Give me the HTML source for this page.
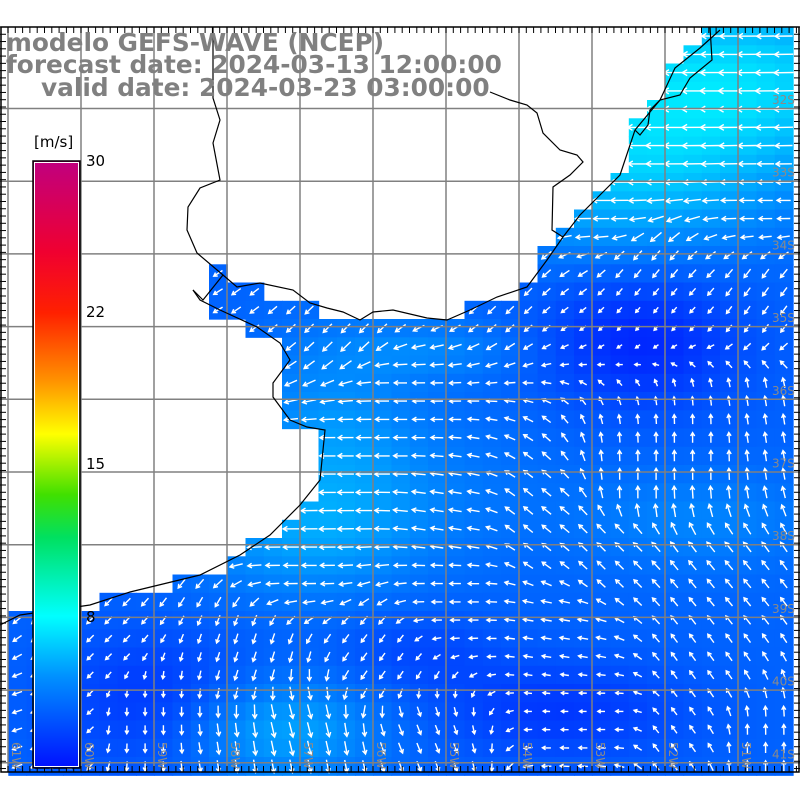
<!DOCTYPE html>
<html><head><meta charset="utf-8"><style>
html,body{margin:0;padding:0;background:#fff;width:800px;height:800px;overflow:hidden}
svg{display:block}
.t{font-family:"DejaVu Sans","Liberation Sans",sans-serif;font-weight:bold;font-size:24.8px;fill:#808080}
.l{font-family:"DejaVu Sans","Liberation Sans",sans-serif;font-size:15px;fill:#000}
.g{font-family:"DejaVu Sans",sans-serif;font-size:12px;fill:#8a8a8a}
</style></head><body>
<svg id="s" width="800" height="800" xmlns="http://www.w3.org/2000/svg">
<defs>
<linearGradient id="cb" x1="0" y1="0" x2="0" y2="1">
<stop offset="0" stop-color="#c0007f"/>
<stop offset="0.15" stop-color="#f00030"/>
<stop offset="0.25" stop-color="#ff2000"/>
<stop offset="0.36" stop-color="#ff9000"/>
<stop offset="0.45" stop-color="#ffff00"/>
<stop offset="0.55" stop-color="#40e000"/>
<stop offset="0.62" stop-color="#00e060"/>
<stop offset="0.75" stop-color="#00ffff"/>
<stop offset="0.85" stop-color="#0090ff"/>
<stop offset="1" stop-color="#0010ff"/>
</linearGradient>
</defs>
<g id="cells"></g>
<g id="arr" stroke="#fff" stroke-width="1.4" fill="none"></g>
<g id="grid" stroke="#808080" stroke-width="1.5"></g>
<polyline fill="none" stroke="#000" stroke-width="1.2" points="0,625 20,615 90,605 130,592 200,575 240,555 270,535 300,505 320,480 325,430 307,427 290,420 273,397 273,383 290,360 280,343 257,327 220,310 200,300 193,290"/>
<polyline fill="none" stroke="#000" stroke-width="1.2" points="193,290 203,300 223,275 237,287 260,283 293,290 310,303 327,308 343,312 360,320 373,312 393,310 427,318 447,320 470,310 497,297 527,287 547,260 563,237 580,215 600,195 620,175 635,130 660,100 675,68 700,48 720,30"/>
<polyline fill="none" stroke="#000" stroke-width="1.2" points="213,27 213,98 220,120 213,143 220,180 200,188 188,207 187,230 197,253 223,275"/>
<polyline fill="none" stroke="#000" stroke-width="1.2" points="490,92 510,100 527,105 537,113 543,133 560,150 577,155 583,162 570,175 553,187 552,230 563,237"/>
<polyline fill="none" stroke="#000" stroke-width="1.2" points="710,27 712,60 690,78 680,95 660,100 650,110 648,125 640,135 635,130"/>
<rect x="1" y="27" width="798" height="745" fill="none" stroke="#000" stroke-width="1.5"/>
<g id="ticks" stroke="#000" stroke-width="1"></g>
<text class="t" x="6" y="51">modelo GEFS-WAVE (NCEP)</text>
<text class="t" x="6" y="73">forecast date: 2024-03-13 12:00:00</text>
<text class="t" x="41" y="96">valid date: 2024-03-23 03:00:00</text>
<text class="l" x="34" y="147">[m/s]</text>
<rect x="33" y="161" width="47" height="607" fill="url(#cb)" stroke="#000" stroke-width="1.5"/>
<rect x="34.5" y="162.5" width="44" height="604" fill="none" stroke="#fff" stroke-width="1"/>
<text class="l" x="86" y="166">30</text>
<text class="l" x="86" y="317">22</text>
<text class="l" x="86" y="469">15</text>
<text class="l" x="86" y="622">8</text>
</svg>
<script>
var NS="http://www.w3.org/2000/svg";
var ocean=[[715,27],[800,27],[800,772],[0,772],[0,628],[20,615],[90,605],[130,592],[200,575],[240,555],[270,535],[300,505],[320,480],[325,430],[290,420],[275,390],[290,370],[290,340],[255,335],[220,315],[200,300],[200,265],[220,265],[230,285],[300,300],[330,315],[375,318],[450,315],[490,300],[520,295],[545,265],[545,245],[565,230],[580,210],[600,190],[620,170],[635,130],[660,100],[675,65],[700,45]];
function inside(x,y){var c=false;for(var i=0,j=ocean.length-1;i<ocean.length;j=i++){var xi=ocean[i][0],yi=ocean[i][1],xj=ocean[j][0],yj=ocean[j][1];if(((yi>y)!=(yj>y))&&(x<(xj-xi)*(y-yi)/(yj-yi)+xi))c=!c;}return c;}
function g(x,y,cx,cy,sx,sy){return Math.exp(-((x-cx)*(x-cx)/(sx*sx)+(y-cy)*(y-cy)/(sy*sy)));}
function speed(x,y){
 var v=0.36;
 v+=0.55*g(x,y,720,80,180,90);
 v+=0.35*g(x,y,620,180,150,80);
 v+=0.2*g(x,y,330,440,80,100);
 v+=0.2*g(x,y,300,540,120,60);
 v+=0.15*g(x,y,430,350,100,30);
 v-=0.28*g(x,y,640,340,100,70);
 v-=0.2*g(x,y,560,710,130,50);
 v-=0.2*g(x,y,150,700,100,70);
 v-=0.12*g(x,y,420,650,80,40);
 v+=0.3*g(x,y,280,730,100,50);
 v+=0.15*g(x,y,700,520,120,50);
 v+=0.1*g(x,y,400,480,150,80);
 return Math.max(0,Math.min(1,v));
}
function col(v){var gg=Math.round(20+v*220);return "rgb(0,"+gg+",255)";}
var P=Math.PI;
var anc=[[700,80,P],[600,200,P],[650,150,P],[760,200,P],[500,270,0.75*P],[350,320,0.75*P],[650,280,0.72*P],[760,300,0.7*P],
[400,400,P],[350,470,P],[300,560,P],[450,600,P],[450,520,1.05*P],
[700,450,1.5*P],[640,480,1.5*P],[760,420,1.45*P],[620,550,1.25*P],[720,580,1.28*P],[540,520,1.22*P],
[560,640,1.05*P],[700,660,1.3*P],[600,720,P],[760,750,1.5*P],[680,740,1.3*P],
[300,720,0.42*P],[420,740,0.38*P],[220,760,0.45*P],[250,660,0.6*P],[100,640,0.75*P],[40,720,0.9*P],[150,720,0.5*P],[380,660,0.7*P]];
function dir(x,y){var sx=0,sy=0;for(var k=0;k<anc.length;k++){var a=anc[k];var d=(x-a[0])*(x-a[0])+(y-a[1])*(y-a[1])+100;var w=1/(d*d);sx+=w*Math.cos(a[2]);sy+=w*Math.sin(a[2]);}return Math.atan2(sy,sx);}
var cells=document.getElementById("cells"),arr=document.getElementById("arr");
var cs=18.25,x0=-10,y0=27;
for(var i=0;i<45;i++)for(var j=0;j<41;j++){
 var x=x0+i*cs,y=y0+j*cs,cx=x+cs/2,cy=y+cs/2;
 if(!inside(cx,cy))continue;
 var v=speed(cx,cy);
 var r=document.createElementNS(NS,"rect");
 r.setAttribute("x",x.toFixed(1));r.setAttribute("y",y.toFixed(1));
 r.setAttribute("width",cs+0.6);r.setAttribute("height",cs+0.6);
 r.setAttribute("fill",col(v));cells.appendChild(r);
 var a=dir(cx,cy),L=4+v*18;
 var dx=Math.cos(a)*L/2,dy=Math.sin(a)*L/2;
 var hx=cx+dx,hy=cy+dy,tx=cx-dx,ty=cy-dy;
 var h=3+v*3;
 var p=document.createElementNS(NS,"path");
 var a1=a+P*0.83,a2=a-P*0.83;
 p.setAttribute("d","M"+tx.toFixed(1)+","+ty.toFixed(1)+"L"+hx.toFixed(1)+","+hy.toFixed(1)+"M"+(hx+Math.cos(a1)*h).toFixed(1)+","+(hy+Math.sin(a1)*h).toFixed(1)+"L"+hx.toFixed(1)+","+hy.toFixed(1)+"L"+(hx+Math.cos(a2)*h).toFixed(1)+","+(hy+Math.sin(a2)*h).toFixed(1));
 arr.appendChild(p);
}
var grid=document.getElementById("grid");
function line(p,x1,y1,x2,y2){var l=document.createElementNS(NS,"line");l.setAttribute("x1",x1);l.setAttribute("y1",y1);l.setAttribute("x2",x2);l.setAttribute("y2",y2);p.appendChild(l);}
for(var k=0;k<11;k++){var gx=8+k*73;line(grid,gx,27,gx,772);}
for(var k=0;k<10;k++){var gy=108.5+k*72.7;line(grid,0,gy,800,gy);}
var t=document.getElementById("ticks");
for(var x=8;x<800;x+=7.3){line(t,x,27,x,33);line(t,x,772,x,766);}
for(var y=27;y<772;y+=7.27){line(t,0,y,6,y);line(t,800,y,794,y);}
var s=document.getElementById("s");
var lat=["32S","33S","34S","35S","36S","37S","38S","39S","40S","41S"];
for(var k=0;k<10;k++){var tx=document.createElementNS(NS,"text");tx.setAttribute("class","g");tx.setAttribute("x",772);tx.setAttribute("y",104+k*72.7);tx.textContent=lat[k];s.appendChild(tx);}
var lon=["61W","60W","59W","58W","57W","56W","55W","54W","53W","52W","51W"];
for(var k=0;k<11;k++){var tx=document.createElementNS(NS,"text");tx.setAttribute("class","g");var X=12+k*73,Y=742;tx.setAttribute("transform","translate("+X+","+Y+") rotate(90)");tx.textContent=lon[k];s.appendChild(tx);}
</script>
</body></html>
